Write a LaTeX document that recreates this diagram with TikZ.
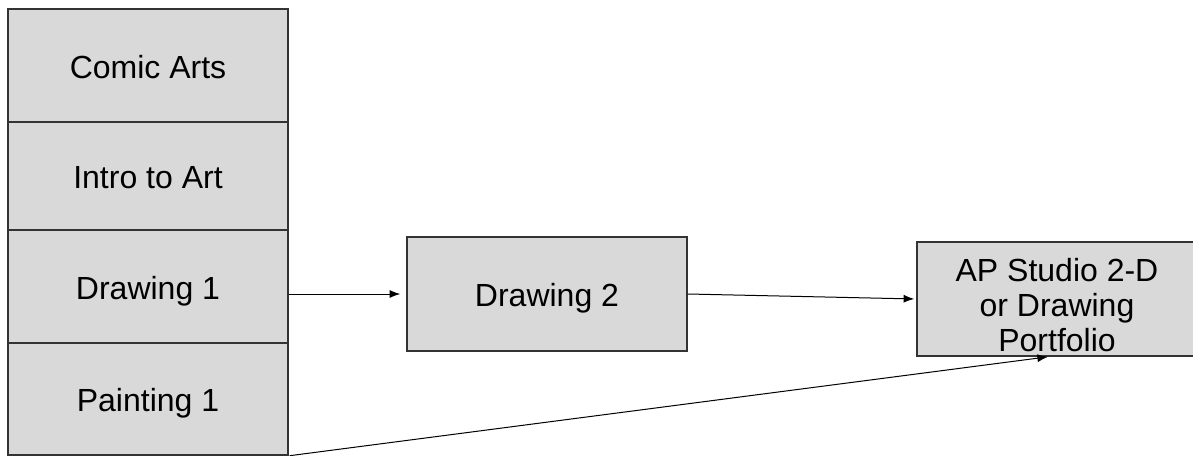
\documentclass[tikz,border=0pt]{standalone}
\usepackage{fontspec}
\setmainfont{Liberation Sans}
\usetikzlibrary{arrows.meta}
\newlength{\du}
\setlength{\du}{0.75pt}
\definecolor{boxfill}{rgb}{0.850000, 0.850000, 0.850000}
\definecolor{dialinecolor}{rgb}{0.000000, 0.000000, 0.000000}
\tikzset{
  coursebox/.style={draw=dialinecolor!80, fill=boxfill, line width=1.4\du,
    rectangle, inner sep=0pt, minimum width=280\du, align=center,
    text height=19pt, text depth=0pt,
    font=\fontsize{24}{26}\selectfont},
  flowarrow/.style={draw=dialinecolor, line width=1\du,
    -{Latex[length=8pt,width=6pt]}}
}
\begin{document}
\begin{tikzpicture}
\pgftransformxscale{1.000000}
\pgftransformyscale{-1.000000}
\useasboundingbox (0\du,0\du) rectangle (1193\du,456\du);
% left column
\node[coursebox, minimum height=113\du] (comic) at (148\du,65.5\du){Comic Arts};
\node[coursebox, minimum height=108\du] (intro) at (148\du,176\du){Intro to Art};
\node[coursebox, minimum height=113\du] (draw1) at (148\du,286.5\du){Drawing 1};
\node[coursebox, minimum height=112\du] (paint1) at (148\du,399\du){Painting 1};
% next steps
\node[coursebox, minimum height=114\du] (draw2) at (547\du,294\du){Drawing 2};
\node[coursebox, minimum height=114\du, text height=78pt] (apstudio) at (1057\du,299\du){AP Studio 2-D\\or Drawing\\Portfolio};
% connectors
\draw[flowarrow, shorten >=6\du] (draw1.east |- draw2.west) -- (draw2.west);
\draw[flowarrow, shorten >=2\du] (draw2.east) -- (apstudio.west);
\coordinate (apfoot) at ([xshift=-8\du]apstudio.south);
\draw[flowarrow, shorten >=1\du] ([xshift=1\du]paint1.south east) -- (apfoot);
\end{tikzpicture}
\end{document}
